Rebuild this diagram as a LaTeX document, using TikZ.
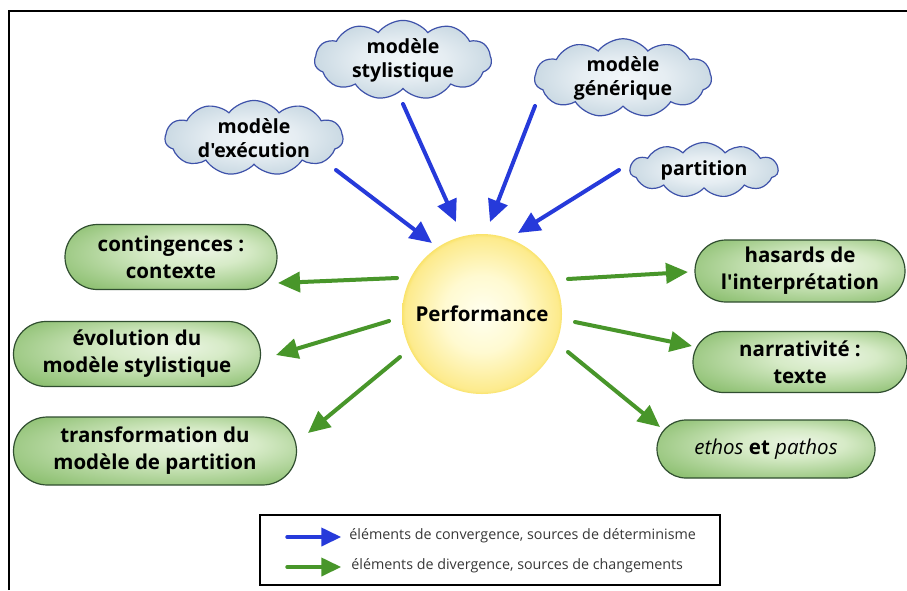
\documentclass[tikz,border=0pt]{standalone}
\usepackage{fontspec}
\setmainfont{Open Sans}[Ligatures=TeXOff]
\usetikzlibrary{shapes.symbols,shapes.misc,arrows.meta,calc}
\definecolor{bluearrow}{RGB}{38,58,218}
\definecolor{greenarrow}{RGB}{72,150,42}
\definecolor{cloudline}{RGB}{62,82,170}
\definecolor{boxline}{RGB}{48,78,48}
\definecolor{legtext}{RGB}{55,55,55}
\pgfdeclareradialshading{blueglow}{\pgfpoint{0bp}{0bp}}{rgb(0bp)=(0.95,0.97,0.98); rgb(12bp)=(0.90,0.93,0.95); rgb(34bp)=(0.72,0.80,0.85); rgb(50bp)=(0.58,0.69,0.76)}
\pgfdeclareradialshading{greenglow}{\pgfpoint{8bp}{6bp}}{rgb(0bp)=(0.92,0.96,0.89); rgb(12bp)=(0.84,0.92,0.78); rgb(34bp)=(0.55,0.75,0.44); rgb(50bp)=(0.42,0.65,0.33)}
\pgfdeclareradialshading{sunglow}{\pgfpoint{0bp}{0bp}}{rgb(0bp)=(1.00,1.00,0.94); rgb(12bp)=(1.00,0.98,0.82); rgb(24bp)=(0.99,0.92,0.55); rgb(25bp)=(0.98,0.89,0.42); rgb(50bp)=(0.98,0.89,0.42)}
\tikzset{
  cloudnode/.style={cloud, cloud puffs=11, cloud puff arc=105, cloud ignores aspect,
    draw=cloudline, line width=1.2pt, shading=blueglow, inner sep=0pt,
    font=\fontsize{19.5}{24}\selectfont\bfseries, align=center},
  greenbox/.style={rounded rectangle, draw=boxline, line width=1.2pt, shading=greenglow,
    inner sep=0pt, font=\fontsize{20.5}{27}\selectfont\bfseries, align=center},
  sunnode/.style={circle, draw=none, shading=sunglow, minimum size=160pt, inner sep=0pt,
    font=\fontsize{20.5}{24}\selectfont\bfseries},
  barrow/.style={draw=bluearrow, line width=4pt, line cap=round,
    -{Triangle[length=22pt,width=20pt]}},
  garrow/.style={draw=greenarrow, line width=4pt, line cap=round,
    -{Triangle[length=22pt,width=20pt]}},
  legendtext/.style={anchor=west, inner sep=0pt, text=legtext, font=\fontsize{14.3}{17}\selectfont}
}
\begin{document}
\begin{tikzpicture}[x=1pt,y=-1pt]
\useasboundingbox (0,0) rectangle (907,590);
\fill[white] (0,0) rectangle (907,590);
% frame
\draw[line width=2pt, black] (9,590) -- (9,11) -- (907,11);

% sun
\node[sunnode] (perf) at (482,314) {Performance};

% clouds
\node[cloudnode, minimum width=178pt, minimum height=57pt] (exec) at (254,138) {modèle\\d'exécution};
\node[cloudnode, minimum width=177pt, minimum height=60pt] (styl) at (403,60) {modèle\\stylistique};
\node[cloudnode, minimum width=177pt, minimum height=60pt] (gen) at (623,78) {modèle\\générique};
\node[cloudnode, minimum width=148pt, minimum height=55pt] (part) at (704,170) {partition};

% green boxes
\node[greenbox, minimum width=212pt, minimum height=65pt] (cont) at (171,257) {contingences :\\contexte};
\node[greenbox, minimum width=247pt, minimum height=65pt] (evol) at (137,354) {évolution du\\modèle stylistique};
\node[greenbox, minimum width=283pt, minimum height=68pt] (trans) at (155,451) {transformation du\\modèle de partition};
\node[greenbox, minimum width=210pt, minimum height=62pt] (has) at (800,271) {hasards de\\l'interprétation};
\node[greenbox, minimum width=214pt, minimum height=61pt] (narr) at (800,362) {narrativité :\\texte};
\node[greenbox, minimum width=218pt, minimum height=58pt] (ethos) at (766,449) {{\mdseries\itshape ethos} et {\mdseries\itshape pathos}};

% blue arrows (convergence)
\draw[barrow] ($(exec)+(82,32)$) -- ($(perf)+(-50,-71)$);
\draw[barrow] ($(styl)+(0,44)$) -- ($(perf)+(-26,-92)$);
\draw[barrow] ($(gen)+(-88,28)$) -- ($(perf)+(8,-92)$);
\draw[barrow] ($(part)+(-85,0)$) -- ($(perf)+(36,-81)$);

% green arrows (divergence)
\draw[garrow] ($(perf)+(-85,-36)$) -- ($(cont)+(107,26)$);
\draw[garrow] ($(perf)+(-93,7)$) -- ($(evol)+(139,1)$);
\draw[garrow] ($(perf)+(-82,43)$) -- ($(trans)+(153,-18)$);
\draw[garrow] ($(perf)+(86,-35)$) -- ($(has)+(-112,1)$);
\draw[garrow] ($(perf)+(93,8)$) -- ($(narr)+(-108,-16)$);
\draw[garrow] ($(perf)+(86,38)$) -- ($(ethos)+(-106,-22)$);

% legend
\node[draw=black, line width=1.5pt, minimum width=460pt, minimum height=70pt, inner sep=0pt] (legend) at (490,550) {};
\coordinate (lb1) at ($(legend.west)+(28,-13)$);
\coordinate (lb2) at ($(legend.west)+(82,-13)$);
\coordinate (lg1) at ($(legend.west)+(28,17)$);
\coordinate (lg2) at ($(legend.west)+(82,17)$);
\draw[draw=bluearrow, line width=4pt, line cap=round, -{Triangle[length=20pt,width=18pt]}] (lb1) -- (lb2);
\draw[draw=greenarrow, line width=4pt, line cap=round, -{Triangle[length=20pt,width=18pt]}] (lg1) -- (lg2);
\node[legendtext] (lt1) at ($(legend.west)+(90,-14)$) {éléments de convergence, sources de déterminisme};
\node[legendtext] (lt2) at ($(legend.west)+(92,16)$) {éléments de divergence, sources de changements};
\end{tikzpicture}
\end{document}
